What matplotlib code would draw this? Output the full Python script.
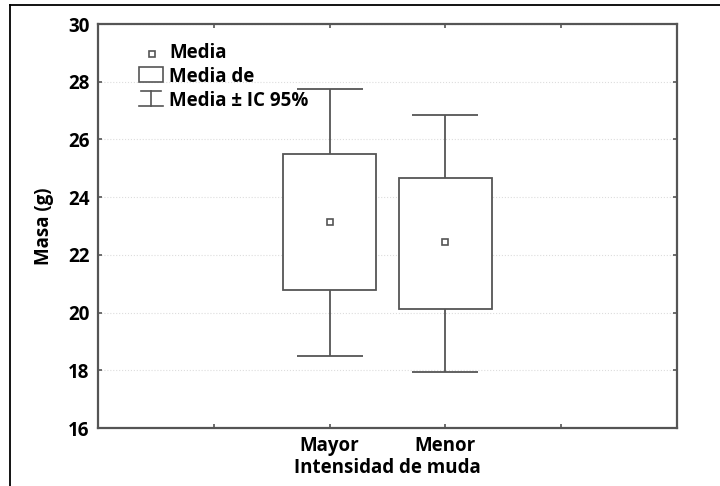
import matplotlib
matplotlib.use("Agg")
import matplotlib.pyplot as plt
from matplotlib.lines import Line2D
from matplotlib.patches import Rectangle

# mass by moult intensity: mean, mean +/- box, 95% CI
grupos = ['Mayor', 'Menor']
media = [23.15, 22.45]
caja_inf = [20.78, 20.12]
caja_sup = [25.50, 24.66]
ic_inf = [18.51, 17.94]
ic_sup = [27.75, 26.85]

plt.rcParams['font.family'] = ['Open Sans', 'DejaVu Sans']
plt.rcParams['font.weight'] = 'bold'
gris = '#555555'
fs = 13.5

fig = plt.figure(figsize=(7.2, 4.86), dpi=100)
ax = fig.add_axes([98/720, 1-428/486, 579/720, 404/486])

pos = [2, 3]
yerr = [[m - lo for m, lo in zip(media, ic_inf)], [hi - m for m, hi in zip(media, ic_sup)]]
ax.errorbar(pos, media, yerr=yerr, fmt='none', ecolor=gris, elinewidth=1.3,
            capsize=23.5, capthick=1.3, zorder=2)
ax.bar(pos, [s - i for s, i in zip(caja_sup, caja_inf)], bottom=caja_inf, width=0.8,
       facecolor='white', edgecolor=gris, linewidth=1.3, zorder=3)
ax.plot(pos, media, 's', ms=5, mfc='white', mec=gris, mew=1.2, zorder=4)

ax.set_xlim(0, 5)
ax.set_ylim(16, 30)
ax.set_yticks(range(16, 31, 2))
ax.set_xticks([1, 2, 3, 4])
ax.set_xticklabels(['', 'Mayor', 'Menor', ''])
ax.grid(axis='y', color='#dddddd', linestyle=':', linewidth=0.8)
ax.set_axisbelow(True)
ax.tick_params(direction='in', length=3, width=1.2, color=gris, top=True, right=True,
               labelsize=fs, pad=6)
for lab in ax.get_xticklabels() + ax.get_yticklabels():
    lab.set_fontweight('bold')
for s in ax.spines.values():
    s.set_color(gris)
    s.set_linewidth(1.6)

ax.set_ylabel('Masa (g)', fontsize=fs, fontweight='bold', labelpad=10)
ax.set_xlabel('Intensidad de muda', fontsize=fs, fontweight='bold', labelpad=1)

# legend drawn by hand in axes fraction
tr = ax.transAxes
def fx(px):
    return (px - 98) / 579
def fy(py):
    return (428 - py) / 404

ax.plot([fx(152)], [fy(54)], 's', ms=5, mfc='white', mec=gris, mew=1.2, transform=tr, clip_on=False)
ax.text(fx(169), fy(53), 'Media', transform=tr, fontsize=fs, fontweight='bold', va='center')
ax.add_patch(Rectangle((fx(139), fy(82)), fx(163) - fx(139), fy(67) - fy(82), transform=tr,
                       facecolor='white', edgecolor=gris, linewidth=1.2, clip_on=False))
ax.text(fx(169), fy(77), 'Media de', transform=tr, fontsize=fs, fontweight='bold', va='center')
ax.plot([fx(141), fx(161)], [fy(91), fy(91)], color=gris, lw=1.2, transform=tr, clip_on=False)
ax.plot([fx(151), fx(151)], [fy(91), fy(106)], color=gris, lw=1.2, transform=tr, clip_on=False)
ax.plot([fx(139), fx(163)], [fy(106), fy(106)], color=gris, lw=1.2, transform=tr, clip_on=False)
ax.text(fx(169), fy(101), 'Media ± IC 95%', transform=tr, fontsize=fs, fontweight='bold', va='center')

# outer frame (top and left edges)
fig.add_artist(Line2D([10/720, 1], [1-5/486, 1-5/486], color='black', lw=1.3))
fig.add_artist(Line2D([10/720, 10/720], [0, 1-5/486], color='black', lw=1.3))

fig.savefig('out.png', dpi=100)
